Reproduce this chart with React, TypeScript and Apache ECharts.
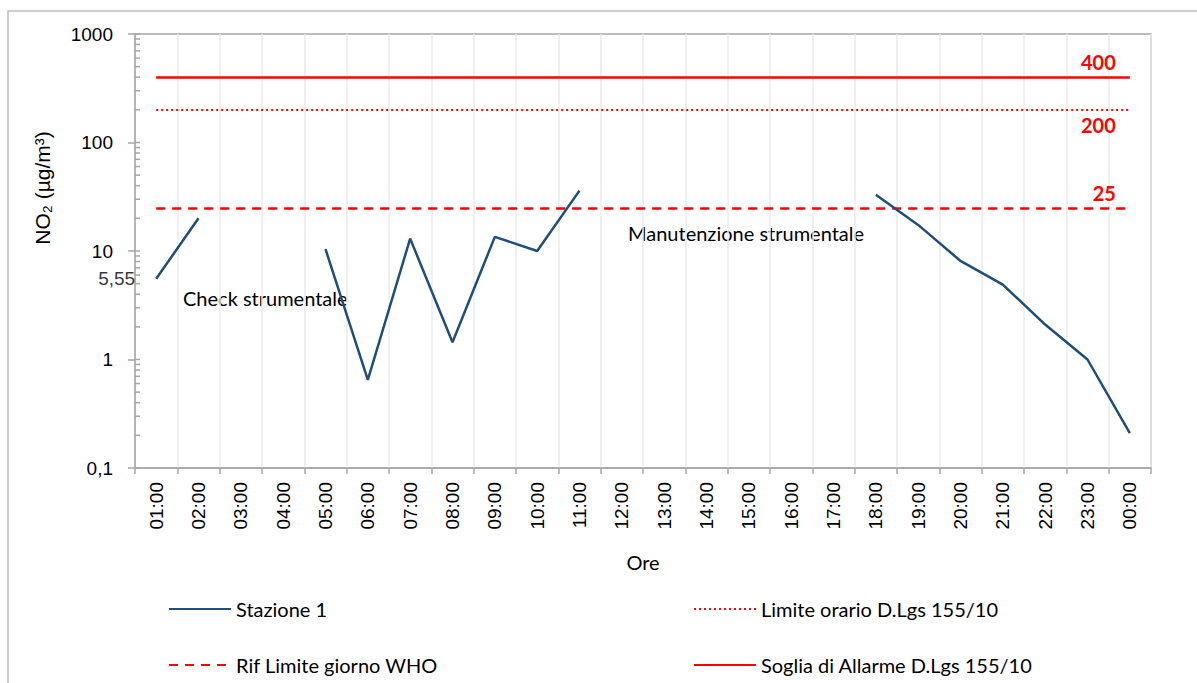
import React, { useEffect, useRef } from "react";
import * as echarts from "echarts";

const hours = ["01:00","02:00","03:00","04:00","05:00","06:00","07:00","08:00","09:00","10:00","11:00","12:00","13:00","14:00","15:00","16:00","17:00","18:00","19:00","20:00","21:00","22:00","23:00","00:00"];
const stazione1 = [5.55, 20, null, null, 10.4, 0.65, 13, 1.44, 13.5, 10, 36, null, null, null, null, null, null, 33, 17.4, 8.1, 4.9, 2.1, 1.0, 0.21];
const sogliaAllarme = 400;
const limiteOrario = 200;
const rifWHO = 25;
const yTicks = [0.1, 1, 10, 100, 1000];
const minorTicks = [0.1,0.2,0.3,0.4,0.5,0.6,0.7,0.8,0.9,1,2,3,4,5,6,7,8,9,10,20,30,40,50,60,70,80,90,100,200,300,400,500,600,700,800,900,1000];

const RED = "#FF0000";
const BLUE = "#1F4E79";
const GRAY = "#A6A6A6";
const LATO = "Lato, 'Noto Sans', sans-serif";
const ARIAL = "'Liberation Sans', Arial, sans-serif";

export default function App() {
  const ref = useRef<HTMLDivElement>(null);
  useEffect(() => {
    document.body.style.margin = "0";
    const chart = echarts.init(ref.current!, undefined, { renderer: "svg" });
    const first = hours[0];
    const last = hours[hours.length - 1];
    const refLine = (name: string, value: number, type: any, width: number, pos: string) => ({
      name,
      type: "line",
      data: [],
      symbol: "none",
      lineStyle: { color: RED, width, type },
      itemStyle: { color: RED },
      markLine: {
        silent: true,
        symbol: "none",
        animation: false,
        lineStyle: { color: RED, width, type },
        label: {
          show: true,
          position: pos,
          formatter: String(value),
          color: RED,
          fontFamily: LATO,
          fontWeight: "bold",
          fontSize: 20,
          distance: [14, 5],
        },
        data: [[{ coord: [first, value] }, { coord: [last, value] }]],
      },
    });
    const legendBase = {
      top: 594, orient: "vertical", itemGap: 36, itemWidth: 62, itemHeight: 14,
      itemStyle: { opacity: 0 },
      textStyle: { fontFamily: LATO, fontSize: 20, color: "#000" },
    };
    chart.setOption({
      animation: false,
      backgroundColor: "#fff",
      grid: { left: 135, right: 46, top: 34, bottom: 215, show: true, borderColor: GRAY, borderWidth: 1.5, backgroundColor: "transparent" },
      graphic: [
        { type: "rect", shape: { x: 8, y: 11, width: 1400, height: 900 }, style: { fill: "none", stroke: "#BFBFBF", lineWidth: 1.5 }, silent: true, z: -10 },
        { type: "text", x: 42, y: 188, rotation: Math.PI / 2, style: { text: "NO\u2082 (\u00B5g/m\u00B3)", fontFamily: ARIAL, fontSize: 21, fill: "#000", align: "center", verticalAlign: "middle" } },
        { type: "text", x: 183, y: 298, style: { text: "Check strumentale", fontFamily: LATO, fontSize: 20, fill: "#000", align: "left", verticalAlign: "middle" } },
        { type: "text", x: 628, y: 233, style: { text: "Manutenzione strumentale", fontFamily: LATO, fontSize: 20, fill: "#000", align: "left", verticalAlign: "middle" } },
      ],
      legend: [
        { ...legendBase, left: 163, data: ["Stazione 1", "Rif Limite giorno WHO"] },
        { ...legendBase, left: 688, data: ["Limite orario D.Lgs 155/10", "Soglia di Allarme D.Lgs 155/10"] },
      ],
      xAxis: {
        type: "category",
        data: hours,
        boundaryGap: true,
        name: "Ore",
        nameLocation: "middle",
        nameGap: 84,
        nameTextStyle: { fontFamily: LATO, fontSize: 20, color: "#000" },
        axisLine: { lineStyle: { color: GRAY, width: 1.5 } },
        axisTick: { show: true, length: 6, lineStyle: { color: GRAY, width: 1.5 } },
        splitLine: { show: true, lineStyle: { color: "#EBEBEB", width: 1.5 } },
        axisLabel: { rotate: 90, margin: 14, fontFamily: ARIAL, fontSize: 19, color: "#000", interval: 0 },
      },
      yAxis: {
        type: "log",
        logBase: 10,
        min: yTicks[0],
        max: yTicks[yTicks.length - 1],
        axisLine: { show: true, lineStyle: { color: GRAY, width: 1.5 } },
        axisTick: { show: true, length: 7, lineStyle: { color: GRAY, width: 1.5 } },
        splitLine: { show: false },
        axisLabel: { margin: 22, fontFamily: ARIAL, fontSize: 19, color: "#000", formatter: (v: number) => String(v).replace(".", ",") },
      },
      series: [
        {
          name: "Stazione 1",
          type: "line",
          data: stazione1,
          symbol: "none",
          connectNulls: false,
          lineStyle: { color: BLUE, width: 2.5 },
          itemStyle: { color: BLUE },
          z: 5,
        },
        refLine("Rif Limite giorno WHO", rifWHO, [9, 7], 2.5, "insideEndTop"),
        refLine("Limite orario D.Lgs 155/10", limiteOrario, [2, 3], 2, "insideEndBottom"),
        refLine("Soglia di Allarme D.Lgs 155/10", sogliaAllarme, "solid", 2.5, "insideEndTop"),
        {
          name: "valueLabel",
          type: "scatter",
          data: [[first, stazione1[0]]],
          symbolSize: 0,
          silent: true,
          label: { show: true, position: "left", distance: 21, formatter: "5,55", fontFamily: ARIAL, fontSize: 19, color: "#000" },
        },
        {
          name: "minorTicks",
          type: "custom",
          silent: true,
          clip: false,
          data: minorTicks.map((v) => [0, v]),
          renderItem: (params: any, api: any) => {
            const cs = params.coordSys;
            const p = api.coord([0, api.value(1)]);
            return { type: "line", shape: { x1: cs.x, y1: p[1], x2: cs.x + 5, y2: p[1] }, style: { stroke: GRAY, lineWidth: 1.5 } };
          },
          encode: { x: 0, y: 1 },
        },
      ],
    });
    return () => chart.dispose();
  }, []);
  return <div ref={ref} style={{ width: 1197, height: 683 }} />;
}
